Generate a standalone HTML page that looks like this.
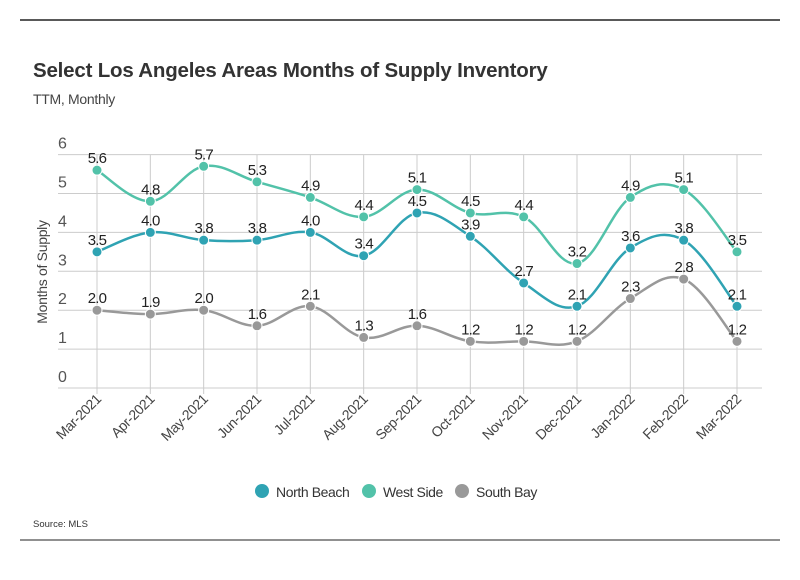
<!DOCTYPE html>
<html><head><meta charset="utf-8"><style>
body{margin:0;background:#fff;}
svg text{font-family:"Liberation Sans Narrow","Liberation Sans",sans-serif;}
</style></head><body>
<svg width="800" height="575" viewBox="0 0 800 575" xmlns="http://www.w3.org/2000/svg">
<line x1="20" y1="20" x2="780" y2="20" stroke="#222" stroke-width="1.5"/>
<line x1="20" y1="540" x2="780" y2="540" stroke="#222" stroke-width="1"/>
<text x="33" y="77" font-size="20.5" font-weight="bold" fill="#333" letter-spacing="-0.2">Select Los Angeles Areas Months of Supply Inventory</text>
<text x="33" y="104" font-size="14" fill="#444" letter-spacing="-0.3">TTM, Monthly</text>
<text transform="translate(47,272) rotate(-90)" text-anchor="middle" font-size="14" fill="#444" letter-spacing="-0.3">Months of Supply</text>
<g id="grid"></g><g id="series"></g><g id="xlabels"></g>
<g>
<g><circle cx="262" cy="491" r="7" fill="#2fa3b3"/><text x="276" y="497" font-size="14" letter-spacing="-0.4" fill="#333">North Beach</text></g>
<g><circle cx="369" cy="491" r="7" fill="#52c2a9"/><text x="383" y="497" font-size="14" letter-spacing="-0.4" fill="#333">West Side</text></g>
<g><circle cx="462" cy="491" r="7" fill="#999"/><text x="476" y="497" font-size="14" letter-spacing="-0.4" fill="#333">South Bay</text></g>
</g>
<text x="33" y="527" font-size="9.5" fill="#333">Source:  MLS</text>
</svg>
<script>
const categories=["Mar-2021","Apr-2021","May-2021","Jun-2021","Jul-2021","Aug-2021","Sep-2021","Oct-2021","Nov-2021","Dec-2021","Jan-2022","Feb-2022","Mar-2022"];
const northBeach=[3.5,4.0,3.8,3.8,4.0,3.4,4.5,3.9,2.7,2.1,3.6,3.8,2.1];
const westSide=[5.6,4.8,5.7,5.3,4.9,4.4,5.1,4.5,4.4,3.2,4.9,5.1,3.5];
const southBay=[2.0,1.9,2.0,1.6,2.1,1.3,1.6,1.2,1.2,1.2,2.3,2.8,1.2];
const yTicks=[0,1,2,3,4,5,6];
const NS="http://www.w3.org/2000/svg";
const X=i=>97+i*(640/(categories.length-1));
const Y=v=>388-v*38.9;
function mk(t,a,p){const e=document.createElementNS(NS,t);for(const k in a)e.setAttribute(k,a[k]);p.appendChild(e);return e;}
const grid=document.getElementById('grid');
yTicks.forEach(t=>{
  const l=mk('line',{x1:58,x2:762,y1:Y(t),y2:Y(t),stroke:'#ccc','stroke-width':1},grid);
  
  
  const tx=mk('text',{x:58,y:Y(t)-6,'font-size':16,fill:'#555'},grid);tx.textContent=t;
  
  
});
const xl=document.getElementById('xlabels');
categories.forEach((c,i)=>{
  const l=mk('line',{x1:X(i),x2:X(i),y1:Y(6),y2:Y(0)+6,stroke:'#ccc','stroke-width':1},grid);
  
  
  const t=mk('text',{transform:`translate(${X(i)+5},${Y(0)+12}) rotate(-45)`,'text-anchor':'end','font-size':14,'letter-spacing':'-0.4',fill:'#444'},xl);
  t.textContent=c;
  
  
});
function path(vals){
  const p=vals.map((v,i)=>[X(i),Y(v)]);let d=`M${p[0][0]},${p[0][1]}`;
  for(let i=0;i<p.length-1;i++){
    const p0=p[i-1]||p[i],p1=p[i],p2=p[i+1],p3=p[i+2]||p2,k=0.18;
    d+=` C${p1[0]+(p2[0]-p0[0])*k},${p1[1]+(p2[1]-p0[1])*k} ${p2[0]-(p3[0]-p1[0])*k},${p2[1]-(p3[1]-p1[1])*k} ${p2[0]},${p2[1]}`;
  }
  return d;
}
const sg=document.getElementById('series');
[[southBay,'#999','south-bay'],[westSide,'#52c2a9','west-side'],[northBeach,'#2fa3b3','north-beach']].forEach(([vals,col,nm])=>{
  const g=mk('g',{},sg);
  
  
  mk('path',{d:path(vals),fill:'none',stroke:col,'stroke-width':2.5},g);
  vals.forEach((v,i)=>{
    const c=mk('circle',{cx:X(i),cy:Y(v),r:5,fill:col,stroke:'#fff','stroke-width':1},g);
    
    
    const t=mk('text',{x:X(i),y:Y(v)-7,'text-anchor':'middle','font-size':15,'letter-spacing':'-0.8',fill:'#222'},g);
    t.textContent=v.toFixed(1);
    
    
  });
});
</script>
</body></html>
